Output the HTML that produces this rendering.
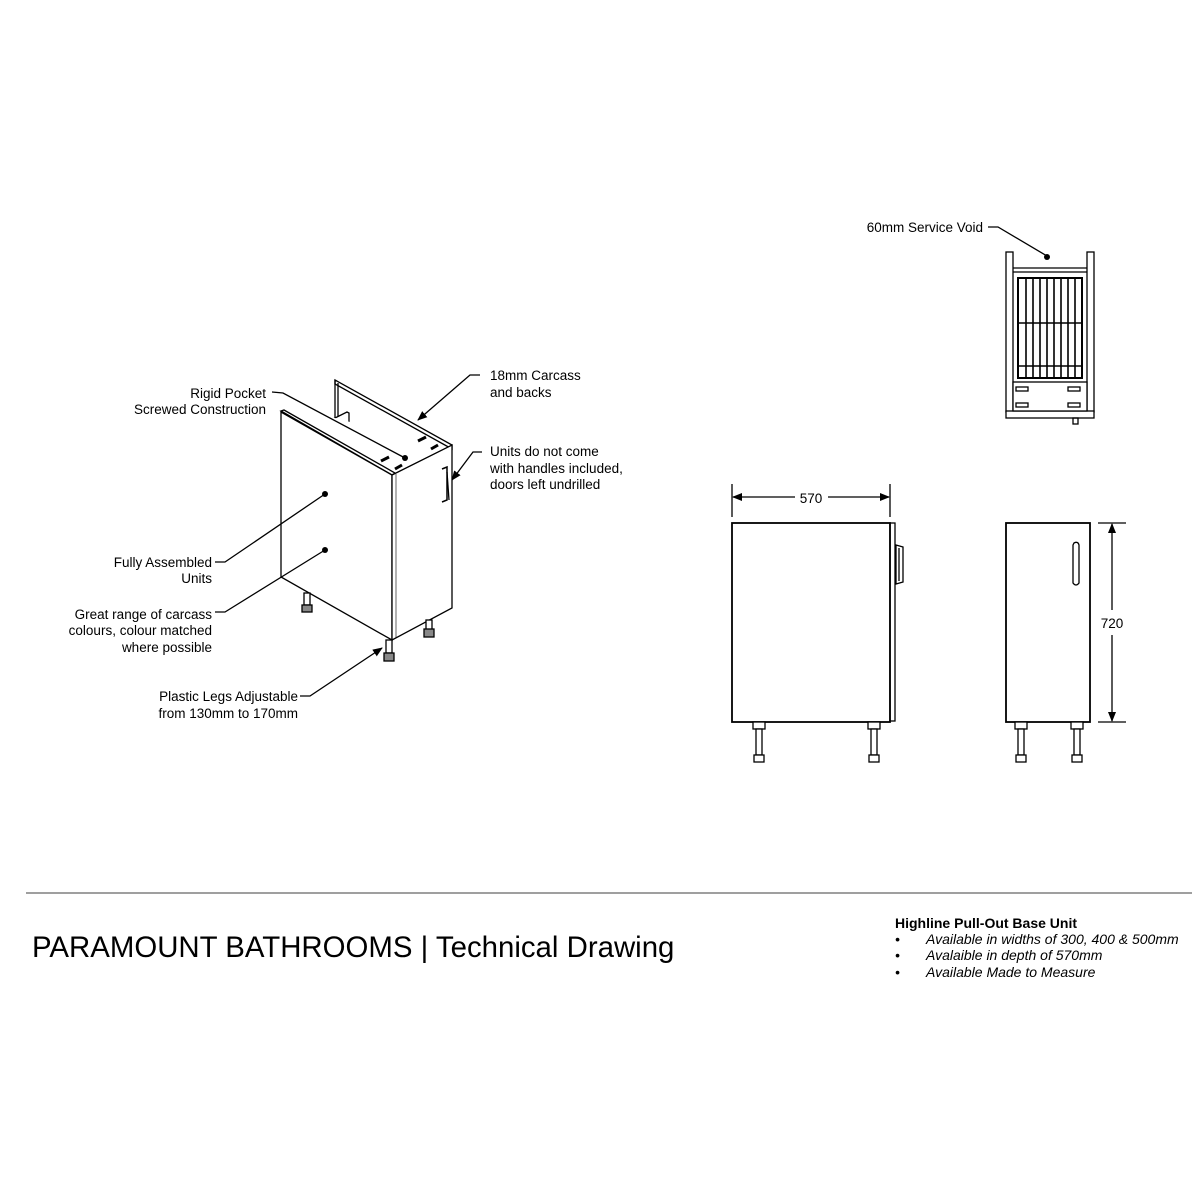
<!DOCTYPE html>
<html><head><meta charset="utf-8"><style>
html,body{margin:0;padding:0;background:#fff;}
svg{display:block;}
text{font-family:"Liberation Sans",Arial,sans-serif;fill:#000;}
</style></head><body>
<svg width="1200" height="1200" viewBox="0 0 1200 1200" xmlns="http://www.w3.org/2000/svg">
<defs>
<marker id="ar" markerWidth="10" markerHeight="8" refX="9" refY="4" orient="auto" markerUnits="userSpaceOnUse"><path d="M0,0 L10,4 L0,8 Z" fill="#000"/></marker>
</defs>
<g stroke="#000" fill="none" stroke-width="1.3">
<polygon points="335,380 452,445 452,449 335,384" fill="#fff"/>
<line x1="335" y1="380" x2="335" y2="418"/>
<line x1="338" y1="383" x2="338" y2="420"/>
<polygon points="315,428 347,412 349,413 349,450 317,430" fill="#fff"/>
<polygon points="281,412 335,418 452,449 392,475" fill="#fff" stroke="none"/>
<line x1="347" y1="450" x2="392" y2="472"/>
<polygon points="281,411 284,410 395,473 392,475" fill="#fff"/>
<polygon points="281,412 392,475 392,640 281,577" fill="#fff"/>
<polygon points="392,475 452,445 452,608 392,640" fill="#fff"/>
<line x1="396" y1="474" x2="396" y2="638" stroke-width="0.6"/>
<g stroke-width="3">
<line x1="381" y1="461" x2="389" y2="457"/><line x1="395" y1="469" x2="402" y2="465"/>
<line x1="418" y1="441" x2="426" y2="437"/><line x1="431" y1="449" x2="438" y2="445"/>
</g>
<path d="M442,469 L447,467 L447,500 L442,502" stroke-width="1.5"/>
<line x1="447" y1="472" x2="449" y2="500"/>
<rect x="304" y="593" width="6" height="12" fill="#fff"/><rect x="302" y="605" width="10" height="7" fill="#888"/>
<rect x="386" y="640" width="6" height="13" fill="#fff"/><rect x="384" y="653" width="10" height="8" fill="#888"/>
<rect x="426" y="620" width="6" height="10" fill="#fff"/><rect x="424" y="629" width="10" height="8" fill="#888"/>

<polyline points="272,392 283,393 405,458"/>
<polyline points="480,375 470,375 418,420" marker-end="url(#ar)"/>
<polyline points="482,452 473,452 452,480" marker-end="url(#ar)"/>
<polyline points="215,562 225,562 325,494"/>
<polyline points="215,612 225,612 325,550"/>
<polyline points="300,696 310,696 382,648" marker-end="url(#ar)"/>

<rect x="1006" y="252" width="7" height="160" fill="#fff"/>
<rect x="1087" y="252" width="7" height="160" fill="#fff"/>
<rect x="1006" y="411" width="88" height="7" fill="#fff"/>
<line x1="1013" y1="268" x2="1087" y2="268"/><line x1="1013" y1="272" x2="1087" y2="272"/>
<rect x="1018" y="278" width="64" height="100" stroke-width="2"/>
<g stroke-width="1.6">
<line x1="1026" y1="277" x2="1026" y2="378"/><line x1="1033" y1="277" x2="1033" y2="378"/><line x1="1040" y1="277" x2="1040" y2="378"/><line x1="1047" y1="277" x2="1047" y2="378"/><line x1="1054" y1="277" x2="1054" y2="378"/><line x1="1061" y1="277" x2="1061" y2="378"/><line x1="1068" y1="277" x2="1068" y2="378"/><line x1="1075" y1="277" x2="1075" y2="378"/>
<line x1="1018" y1="323" x2="1082" y2="323"/><line x1="1018" y1="366" x2="1082" y2="366"/>
</g>
<rect x="1013" y="382" width="74" height="29" fill="#fff"/>
<rect x="1016" y="387" width="12" height="4"/><rect x="1068" y="387" width="12" height="4"/>
<rect x="1016" y="403" width="12" height="4"/><rect x="1068" y="403" width="12" height="4"/>
<rect x="1073" y="418" width="5" height="6"/>
<polyline points="988,227 998,227 1047,256"/>

<rect x="732" y="523" width="158" height="199" fill="#fff" stroke-width="1.8"/>
<rect x="890" y="523" width="5" height="198"/>
<path d="M896,545 L903,547 L903,582 L896,584 Z" fill="#fff"/>
<line x1="899" y1="548" x2="899" y2="581"/>
<g fill="#fff">
<rect x="753" y="722" width="12" height="7"/><rect x="756" y="729" width="6" height="26"/><rect x="754" y="755" width="10" height="7"/>
<rect x="868" y="722" width="12" height="7"/><rect x="871" y="729" width="6" height="26"/><rect x="869" y="755" width="10" height="7"/>
</g>
<line x1="732" y1="484" x2="732" y2="517"/><line x1="890" y1="484" x2="890" y2="517"/>
<line x1="795" y1="497" x2="733" y2="497" marker-end="url(#ar)"/>
<line x1="828" y1="497" x2="889" y2="497" marker-end="url(#ar)"/>

<rect x="1006" y="523" width="84" height="199" fill="#fff" stroke-width="1.8"/>
<path d="M1074,543 Q1078,541 1079,545 L1079,583 Q1076,587 1073,583 L1073,545 Z" fill="#fff"/>
<g fill="#fff">
<rect x="1015" y="722" width="12" height="7"/><rect x="1018" y="729" width="6" height="26"/><rect x="1016" y="755" width="10" height="7"/>
<rect x="1071" y="722" width="12" height="7"/><rect x="1074" y="729" width="6" height="26"/><rect x="1072" y="755" width="10" height="7"/>
</g>
<line x1="1098" y1="523" x2="1126" y2="523"/><line x1="1098" y1="722" x2="1126" y2="722"/>
<line x1="1112" y1="610" x2="1112" y2="524" marker-end="url(#ar)"/>
<line x1="1112" y1="635" x2="1112" y2="721" marker-end="url(#ar)"/>

<line x1="26" y1="893" x2="1192" y2="893" stroke="#666" stroke-width="1.2"/>
</g>
<g fill="#000">
<circle cx="405" cy="458" r="3"/><circle cx="325" cy="494" r="3"/><circle cx="325" cy="550" r="3"/><circle cx="1047" cy="257" r="3"/>
</g>

<g font-size="13.5">
<text x="266" y="398" text-anchor="end">Rigid Pocket</text>
<text x="266" y="414" text-anchor="end">Screwed Construction</text>
<text x="490" y="380">18mm Carcass</text>
<text x="490" y="397">and backs</text>
<text x="490" y="456">Units do not come</text>
<text x="490" y="473">with handles included,</text>
<text x="490" y="489">doors left undrilled</text>
<text x="212" y="567" text-anchor="end">Fully Assembled</text>
<text x="212" y="583" text-anchor="end">Units</text>
<text x="212" y="619" text-anchor="end">Great range of carcass</text>
<text x="212" y="635" text-anchor="end">colours, colour matched</text>
<text x="212" y="652" text-anchor="end">where possible</text>
<text x="298" y="701" text-anchor="end">Plastic Legs Adjustable</text>
<text x="298" y="718" text-anchor="end">from 130mm to 170mm</text>
<text x="983" y="232" text-anchor="end">60mm Service Void</text>
<text x="811" y="503" text-anchor="middle">570</text>
<text x="1112" y="628" text-anchor="middle">720</text>
</g>
<text x="32" y="957" font-size="29.4">PARAMOUNT BATHROOMS | Technical Drawing</text>
<text x="895" y="928" font-size="14" font-weight="bold">Highline Pull-Out Base Unit</text>
<g font-size="14" font-style="italic">
<text x="895" y="944">•</text><text x="926" y="944">Available in widths of 300, 400 &amp; 500mm</text>
<text x="895" y="960">•</text><text x="926" y="960">Avalaible in depth of 570mm</text>
<text x="895" y="977">•</text><text x="926" y="977">Available Made to Measure</text>
</g>
</svg>
</body></html>
